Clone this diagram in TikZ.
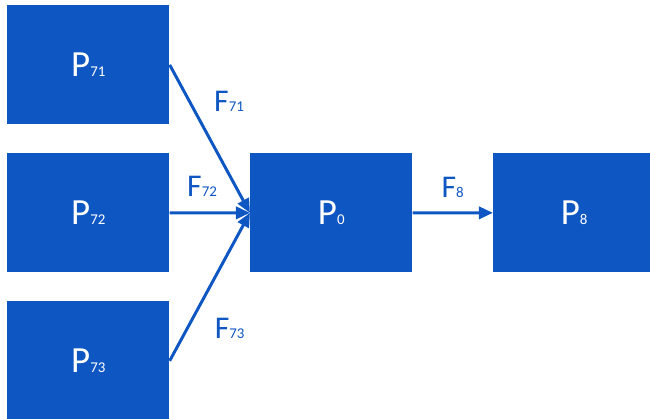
\documentclass[tikz,border=0pt]{standalone}
\usepackage{fontspec}
\setmainfont{Carlito}
\usetikzlibrary{matrix,arrows.meta}
\definecolor{procblue}{RGB}{14,86,194}
\newcommand{\idx}[1]{{\fontsize{8.5}{9}\selectfont #1}}

\begin{document}
\begin{tikzpicture}[x=0.02cm,y=-0.02cm,
  flow/.style={draw=procblue, line width=1.7pt, -{Triangle[length=8pt,width=7pt]}},
  flowlabel/.style={text=procblue, inner sep=0pt, font=\fontsize{18}{18}\selectfont}]
  \useasboundingbox (0,0) rectangle (650,419);
  \matrix (m) [matrix of nodes, anchor=north west, inner sep=0pt, row sep=0.58cm, column sep=1.62cm,
    nodes={fill=procblue, text=white, inner sep=0pt, minimum width=3.24cm, minimum height=2.38cm, font=\fontsize{21}{21}\selectfont}]
    at (7,5)
  {
P\idx{71} &          &          \\
P\idx{72} & P\idx{0} & P\idx{8} \\
P\idx{73} &          &          \\
};
  \path[every edge/.style=flow]
  (m-1-1.east) edge node [flowlabel, pos=0.25, anchor=west, xshift=0.46cm] {F\idx{71}} (m-2-2.west)
  (m-2-1.east) edge node [flowlabel, pos=0.2, anchor=west, yshift=0.52cm] {F\idx{72}} (m-2-2.west)
  (m-3-1.east) edge node [flowlabel, pos=0.22, anchor=west, xshift=0.52cm] {F\idx{73}} (m-2-2.west)
  (m-2-2.east) edge node [flowlabel, midway, above=0.28cm] {F\idx{8}} (m-2-3.west)
  ;
\end{tikzpicture}
\end{document}
